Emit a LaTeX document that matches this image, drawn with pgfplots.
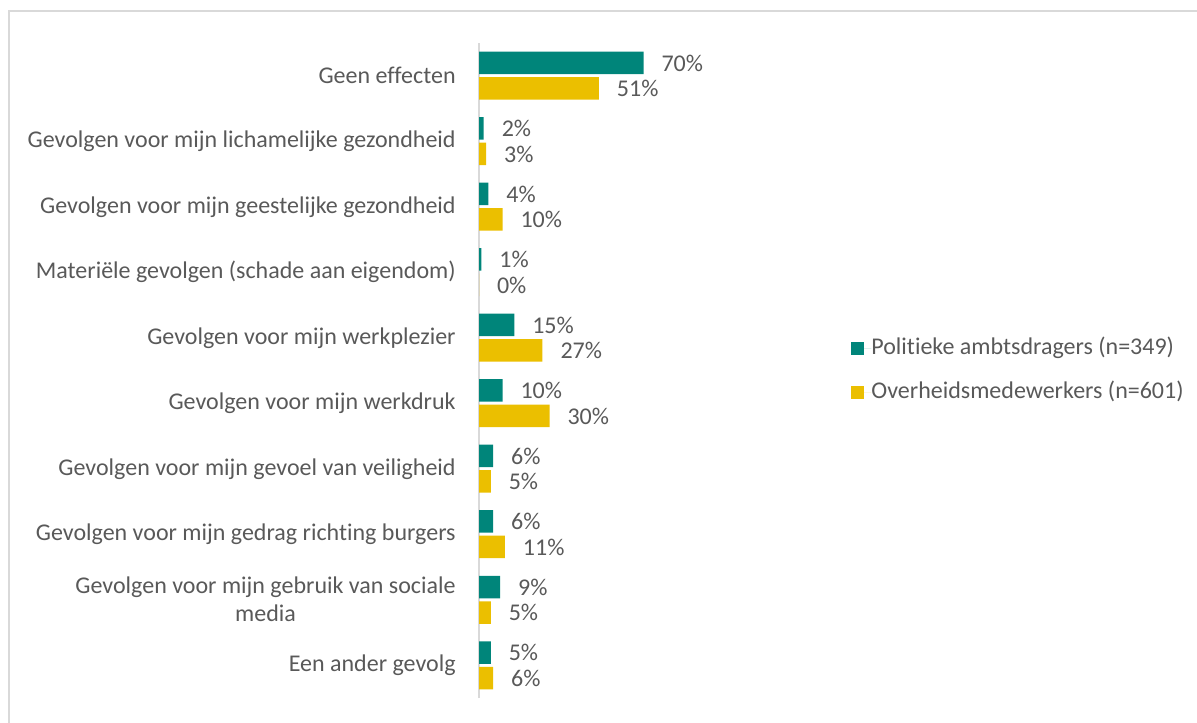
\documentclass[border=0pt]{standalone}
\usepackage{fontspec}
\setmainfont{Carlito}[Ligatures=NoCommon]
\usepackage{pgfplots}
\pgfplotsset{compat=1.18}
\definecolor{teal1}{HTML}{00857A}
\definecolor{gold1}{HTML}{EBBF00}
\definecolor{txt}{HTML}{595959}
\definecolor{framec}{HTML}{D9D9D9}
\begin{document}
\begin{tikzpicture}
\path[use as bounding box] (0,0) rectangle (598.5pt,361pt);
\draw[framec, line width=1pt] (4.25pt,-10pt) -- (4.25pt,355.5pt) -- (610pt,355.5pt);
\begin{axis}[
  at={(239.5pt,12pt)}, anchor=south west,
  scale only axis, width=117.5pt, height=327.5pt,
  xbar, xmin=0, xmax=100, ymin=-0.5, ymax=9.5,
  axis x line=none, axis y line*=left,
  y axis line style={framec, line width=0.75pt, -},
  ytick={0,...,9},
  yticklabels={Een ander gevolg,
    {Gevolgen voor mijn gebruik van sociale\\media},
    Gevolgen voor mijn gedrag richting burgers,
    Gevolgen voor mijn gevoel van veiligheid,
    Gevolgen voor mijn werkdruk,
    Gevolgen voor mijn werkplezier,
    Materiële gevolgen (schade aan eigendom),
    Gevolgen voor mijn geestelijke gezondheid,
    Gevolgen voor mijn lichamelijke gezondheid,
    Geen effecten},
  yticklabel style={align=center, inner sep=0pt, xshift=-11.5pt, font=\fontsize{12}{14}\selectfont, text=txt},
  major tick length=0pt,
  bar width=11.25pt,
  point meta=x,
  /pgf/number format/assume math mode=true,
  nodes near coords={\pgfmathprintnumber{\pgfplotspointmeta}\%},
  every node near coord/.append style={font=\fontsize{12}{14}\selectfont, text=txt, xshift=5.5pt},
  legend style={at={(1.583,0.5)}, anchor=west, draw=none, fill=none, inner sep=0pt,
    row sep=11pt, font=\fontsize{12}{14}\selectfont, text=txt,
    nodes={inner sep=0pt, text height=8.5pt, text depth=2.5pt}},
  legend cell align=left,
  legend image code/.code={\fill[#1] (0pt,-3.25pt) rectangle (6.5pt,3.25pt); \path (0pt,0pt) -- (10pt,0pt);},
]
\addplot[fill=teal1, draw=none, bar shift=6.375pt] coordinates {(70,9) (2,8) (4,7) (1,6) (15,5) (10,4) (6,3) (6,2) (9,1) (5,0)};
\addplot[fill=gold1, draw=none, bar shift=-6.375pt] coordinates {(51,9) (3,8) (10,7) (0,6) (27,5) (30,4) (5,3) (11,2) (5,1) (6,0)};
\legend{Politieke ambtsdragers (n=349), Overheidsmedewerkers (n=601)}
\end{axis}
\end{tikzpicture}
\end{document}
